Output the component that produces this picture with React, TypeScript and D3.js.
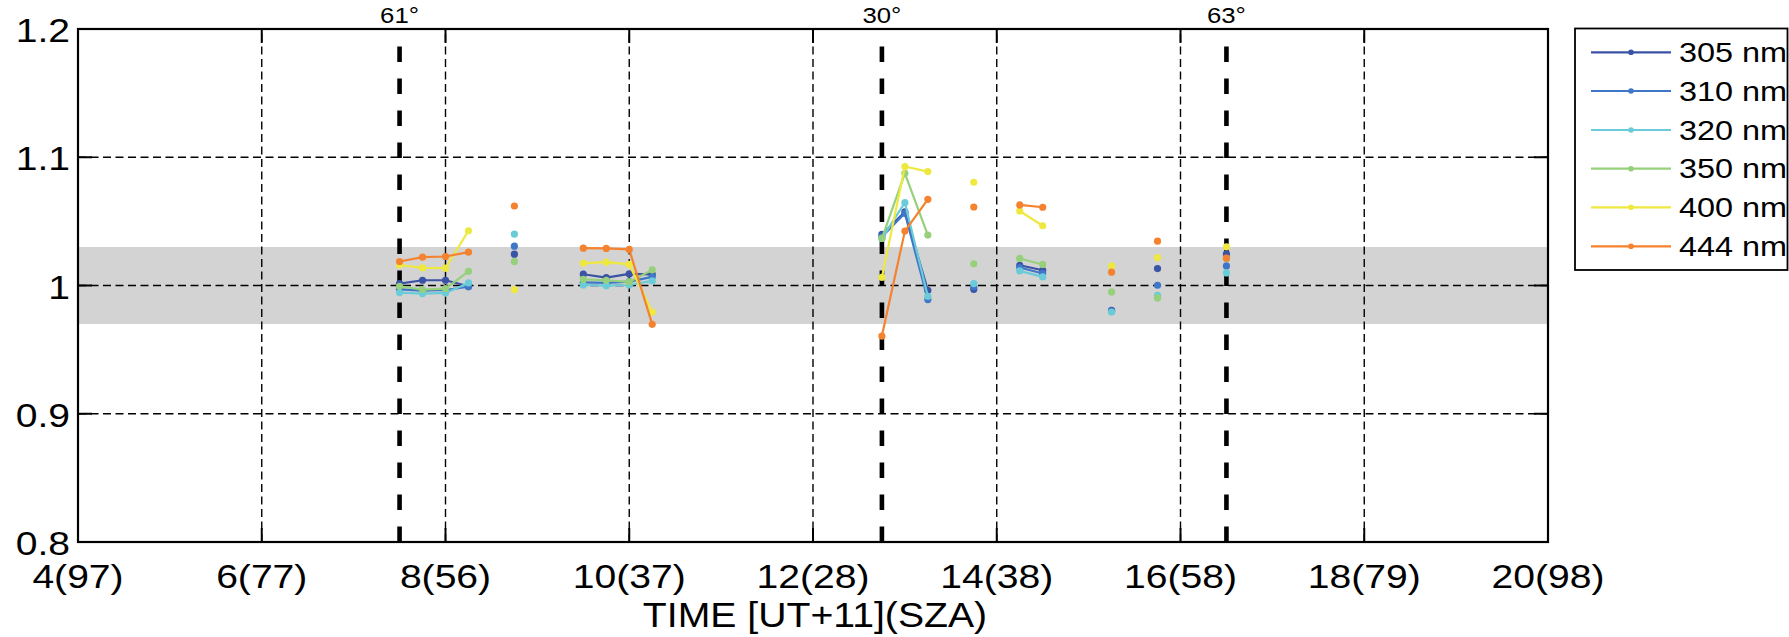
import React from "react";
import * as d3 from "d3";

// ---------- data ----------
const times = [7.5, 7.75, 8, 8.25, 8.75, 9.5, 9.75, 10, 10.25, 12.75, 13, 13.25, 13.75, 14.25, 14.5, 15.25, 15.75, 16.5];
const groups = [0, 0, 0, 0, 1, 2, 2, 2, 2, 3, 3, 3, 4, 5, 5, 6, 7, 8];

const s305 = [1.0015, 1.0041, 1.0041, 0.9994, 1.0244, 1.0088, 1.0062, 1.009, 1.0086, 1.0398, 1.0575, 0.9963, 0.997, 1.0158, 1.0119, 0.9806, 1.0132, 1.0246];
const s310 = [0.997, 0.996, 0.9965, 0.999, 1.0307, 1.0025, 1.002, 1.003, 1.0067, 1.038, 1.0563, 0.989, 0.9989, 1.014, 1.0094, 0.98, 1.0002, 1.0153];
const s320 = [0.9945, 0.9937, 0.9942, 1.002, 1.04, 1.0004, 0.9999, 1.0004, 1.0036, 1.0367, 1.0646, 0.9916, 1.0015, 1.0114, 1.0067, 0.9793, 0.9924, 1.0098];
const s350 = [0.9994, 0.9968, 0.9976, 1.0111, 1.0187, 1.0047, 1.0041, 1.0028, 1.0122, 1.0367, 1.0875, 1.0393, 1.0169, 1.0211, 1.0164, 0.995, 0.9903, 1.021];
const s400 = [1.016, 1.0137, 1.0135, 1.0427, 0.9968, 1.0174, 1.0182, 1.0164, 0.9793, 1.0064, 1.0928, 1.0888, 1.0805, 1.0581, 1.0466, 1.0153, 1.0218, 1.0302];
const s444 = [1.0187, 1.0221, 1.0226, 1.026, 1.062, 1.0291, 1.0289, 1.0281, 0.9697, 0.9606, 1.0424, 1.0672, 1.0612, 1.0628, 1.061, 1.0104, 1.0346, 1.0213];

const seriesNames = ["305 nm", "310 nm", "320 nm", "350 nm", "400 nm", "444 nm"];
const seriesValues = [s305, s310, s320, s350, s400, s444];
const seriesColors = ["#3a53a4", "#3f76c8", "#6accd9", "#96d07b", "#eee83f", "#f5822e"];

const xTicks = [4, 6, 8, 10, 12, 14, 16, 18, 20];
const xTickLabels = ["4(97)", "6(77)", "8(56)", "10(37)", "12(28)", "14(38)", "16(58)", "18(79)", "20(98)"];
const yTicks = [0.8, 0.9, 1.0, 1.1, 1.2];
const yTickLabels = ["0.8", "0.9", "1", "1.1", "1.2"];

const markerTimes = [7.5, 12.75, 16.5];
const markerLabels = ["61°", "30°", "63°"];

const bandLow = 0.97;
const bandHigh = 1.03;

// ---------- layout ----------
const W = 1789;
const H = 637;
const L = 78;
const R = 1548;
const T = 29;
const B = 542;
const FONT = "'Liberation Sans', Arial, Helvetica, sans-serif";

export default function App() {
  const x = d3.scaleLinear().domain([4, 20]).range([L, R]);
  const y = d3.scaleLinear().domain([0.8, 1.2]).range([B, T]);
  const tickLen = 14;

  const uniqueGroups = Array.from(new Set(groups));

  const lineGen = d3
    .line<number>()
    .x((i) => x(times[i]))
    .y((i) => y(0))
    .curve(d3.curveLinear);

  const legendRows = [52.3, 91, 130, 168.7, 207.3, 246.3];

  return (
    <svg
      width={W}
      height={H}
      style={{ position: "absolute", left: 0, top: 0, background: "#fff" }}
      fontFamily={FONT}
    >
      <rect x={0} y={0} width={W} height={H} fill="#fff" />
      {/* tolerance band */}
      <rect x={L} y={y(bandHigh)} width={R - L} height={y(bandLow) - y(bandHigh)} fill="#d3d3d3" />

      {/* grid */}
      {xTicks.slice(1, -1).map((t) => (
        <line key={"gx" + t} x1={x(t)} x2={x(t)} y1={B} y2={T} stroke="#000" strokeWidth={1.4} strokeDasharray="8,4.5" />
      ))}
      {yTicks.slice(1, -1).map((v) => (
        <line key={"gy" + v} x1={L} x2={R} y1={y(v)} y2={y(v)} stroke="#000" strokeWidth={1.4} strokeDasharray="8,4.5" />
      ))}

      {/* thick SZA lines */}
      {markerTimes.map((t, i) => (
        <g key={"m" + i}>
          <line x1={x(t)} x2={x(t)} y1={B} y2={T} stroke="#000" strokeWidth={4.6} strokeDasharray="15.5,16.5" />
          <text
            transform={`translate(${x(t)},23.3) scale(1.12,1)`}
            textAnchor="middle"
            fontSize={23}
            fill="#000"
          >
            {markerLabels[i]}
          </text>
        </g>
      ))}

      {/* data */}
      {seriesValues.map((vals, si) => {
        const lg = d3
          .line<number>()
          .x((i) => x(times[i]))
          .y((i) => y(vals[i]));
        return (
          <g key={"s" + si}>
            {uniqueGroups.map((g) => {
              const idx = times.map((_, i) => i).filter((i) => groups[i] === g);
              if (idx.length < 2) return null;
              return (
                <path
                  key={"p" + g}
                  d={lg(idx) || ""}
                  fill="none"
                  stroke={seriesColors[si]}
                  strokeWidth={2.2}
                  strokeLinejoin="round"
                />
              );
            })}
            {vals.map((v, i) => (
              <circle key={"c" + i} cx={x(times[i])} cy={y(v)} r={3.6} fill={seriesColors[si]} />
            ))}
          </g>
        );
      })}

      {/* axes box */}
      <rect x={L} y={T} width={R - L} height={B - T} fill="none" stroke="#000" strokeWidth={2.2} />
      {xTicks.map((t) => (
        <g key={"tx" + t}>
          <line x1={x(t)} x2={x(t)} y1={B} y2={B - tickLen} stroke="#000" strokeWidth={2} />
          <line x1={x(t)} x2={x(t)} y1={T} y2={T + tickLen} stroke="#000" strokeWidth={2} />
        </g>
      ))}
      {yTicks.map((v) => (
        <g key={"ty" + v}>
          <line x1={L} x2={L + tickLen} y1={y(v)} y2={y(v)} stroke="#000" strokeWidth={2} />
          <line x1={R} x2={R - tickLen} y1={y(v)} y2={y(v)} stroke="#000" strokeWidth={2} />
        </g>
      ))}

      {/* tick labels */}
      {xTicks.map((t, i) => (
        <text
          key={"lx" + t}
          transform={`translate(${x(t)},588) scale(1.15,1)`}
          textAnchor="middle"
          fontSize={34}
          fill="#000"
        >
          {xTickLabels[i]}
        </text>
      ))}
      {yTicks.map((v, i) => (
        <text
          key={"ly" + v}
          transform={`translate(70,${y(v) + 13}) scale(1.15,1)`}
          textAnchor="end"
          fontSize={34}
          fill="#000"
        >
          {yTickLabels[i]}
        </text>
      ))}
      <text transform={`translate(${(L + R) / 2 + 2},626.5) scale(1.12,1)`} textAnchor="middle" fontSize={35} fill="#000">
        TIME [UT+11](SZA)
      </text>

      {/* legend */}
      <rect x={1575} y={28.5} width={212.5} height={241.5} fill="#fff" stroke="#000" strokeWidth={1.8} />
      {seriesNames.map((n, i) => (
        <g key={"lg" + i}>
          <line x1={1591} x2={1671} y1={legendRows[i]} y2={legendRows[i]} stroke={seriesColors[i]} strokeWidth={2.2} />
          <circle cx={1631} cy={legendRows[i]} r={2.8} fill={seriesColors[i]} />
          <text transform={`translate(1679,${legendRows[i] + 9.5}) scale(1.2,1)`} fontSize={27} fill="#000">
            {n}
          </text>
        </g>
      ))}
    </svg>
  );
}
